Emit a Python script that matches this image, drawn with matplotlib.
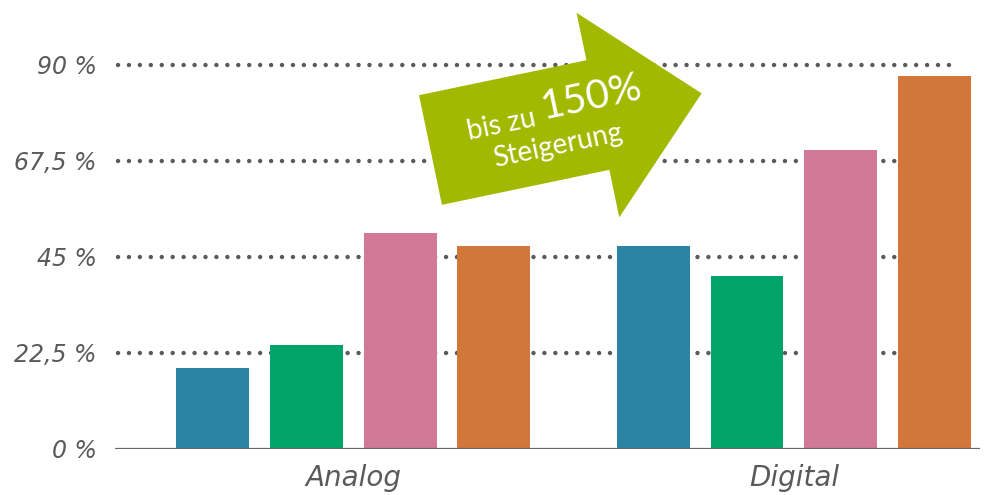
import numpy as np
import matplotlib.pyplot as plt
from matplotlib.patches import Polygon

# Daten
gruppen = ['Analog', 'Digital']
serie_blau = [19.0, 47.6]
serie_gruen = [24.4, 40.5]
serie_rosa = [50.6, 70.1]
serie_orange = [47.6, 87.4]
ticks = [0, 22.5, 45, 67.5, 90]
tick_labels = ['0 %', '22,5 %', '45 %', '67,5 %', '90 %']

farben = ['#2B84A3', '#00A46A', '#D17997', '#D3763A']
grau = '#5a5a5a'
pfeil_gruen = '#A2B900'

fig = plt.figure(figsize=(9.86, 4.95), dpi=100, facecolor='w')
ax = fig.add_axes([115 / 986, 46 / 495, 865 / 986, 449 / 495])

x = np.arange(len(gruppen))
abstand = 0.213
breite = 0.1655
for i, (werte, farbe) in enumerate(zip([serie_blau, serie_gruen, serie_rosa, serie_orange], farben)):
    ax.bar(x + (i - 1.5) * abstand, werte, width=breite, color=farbe, zorder=3)

ax.set_xlim(-0.540, 1.422)
ax.set_ylim(0, 105.2)

# gepunktete Hilfslinien
for t in ticks[1:]:
    ax.plot([-0.533, 1.366], [t, t], color=grau, lw=3.2,
            linestyle=(0, (0.01, 2.45)), dash_capstyle='round', zorder=1)
ax.axhline(0, color='#666666', lw=1.6, zorder=4)

for s in ax.spines.values():
    s.set_visible(False)
ax.set_yticks(ticks)
ax.set_yticklabels(tick_labels)
ax.set_xticks(x)
ax.set_xticklabels(gruppen)
ax.tick_params(length=0)
ax.tick_params(axis='y', pad=13)
ax.tick_params(axis='x', pad=11)
for lab in ax.get_yticklabels():
    lab.set_fontfamily('DejaVu Sans')
    lab.set_fontstyle('oblique')
    lab.set_fontsize(17)
    lab.set_color(grau)
for lab in ax.get_xticklabels():
    lab.set_fontfamily('DejaVu Sans')
    lab.set_fontstyle('oblique')
    lab.set_fontsize(20)
    lab.set_color(grau)

# Pfeil mit Hinweistext (Pixelkoordinaten)
ov = fig.add_axes([0, 0, 1, 1], zorder=5)
ov.set_xlim(0, 986)
ov.set_ylim(495, 0)
ov.axis('off')
ov.patch.set_alpha(0)

winkel = np.deg2rad(11.8)
richtung = np.array([np.cos(winkel), -np.sin(winkel)])
normale = np.array([np.sin(winkel), np.cos(winkel)])
start = np.array([430.5, 150.0])
laenge, schaft, kopf_b, kopf_l = 277, 112, 209, 106
lokal = [(0, -schaft / 2), (laenge - kopf_l, -schaft / 2), (laenge - kopf_l, -kopf_b / 2),
         (laenge, 0), (laenge - kopf_l, kopf_b / 2), (laenge - kopf_l, schaft / 2), (0, schaft / 2)]
punkte = [start + u * richtung + v * normale for u, v in lokal]
ov.add_patch(Polygon(punkte, closed=True, facecolor=pfeil_gruen, edgecolor='none'))

txt = dict(color='w', family='Lato', rotation=11.8, rotation_mode='anchor', ha='center', va='center')
ov.text(501, 125, 'bis zu', fontsize=20, **txt)
ov.text(591, 97, '150%', fontsize=29, **txt)
ov.text(558, 146, 'Steigerung', fontsize=20, **txt)

fig.savefig('out.png', dpi=100)
